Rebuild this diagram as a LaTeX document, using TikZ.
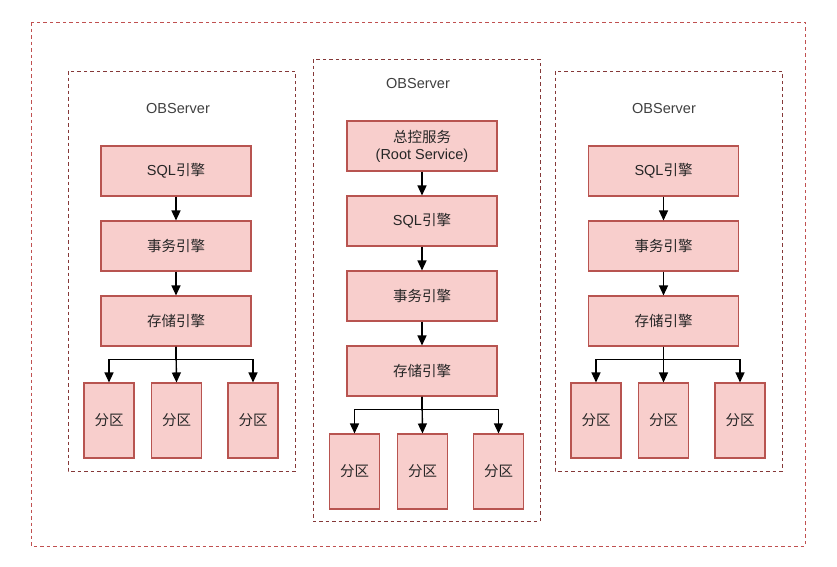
\documentclass[tikz,border=0pt]{standalone}
\usepackage{fontspec}
\setmainfont{Liberation Sans}
\newfontfamily\cjk{Noto Sans CJK SC}
\usetikzlibrary{arrows.meta}
\definecolor{boxfill}{HTML}{F8CECC}
\definecolor{boxline}{HTML}{B85450}
\definecolor{outerline}{HTML}{C05050}
\definecolor{innerline}{HTML}{853838}
\begin{document}
\begin{tikzpicture}[x=1pt,y=-1pt,
  comp/.style={draw=boxline,fill=boxfill,line width=1.1pt,minimum width=150pt,minimum height=50pt,inner sep=0pt,font=\fontsize{14.5}{17}\selectfont,align=center,text=black!85},
  part/.style={draw=boxline,fill=boxfill,line width=1.1pt,minimum width=50pt,minimum height=75pt,inner sep=0pt,font=\fontsize{14.5}{17}\selectfont,text=black!85},
  outerbox/.style={draw=outerline,line width=1pt,dash pattern=on 3.5pt off 3pt},
  innerbox/.style={draw=innerline,line width=1pt,dash pattern=on 3.5pt off 3pt},
  lbl/.style={font=\fontsize{14.5}{17}\selectfont,text=black!75},
  arr/.style={draw=black,line width=1.4pt,-{Triangle[length=10pt,width=9pt]}},
  link/.style={draw=black,line width=1.4pt}]
\useasboundingbox (0,0) rectangle (837,566);
\fill[white] (0,0) rectangle (837,566);
% containers
\draw[outerbox] (31,22) rectangle (805,546);
\draw[innerbox] (68,71) rectangle (295,471);
\draw[innerbox] (313,59) rectangle (540,521);
\draw[innerbox] (555,71) rectangle (782,471);
% labels
\node[lbl] (lA) at (178,109) {OBServer};
\node[lbl] (lB) at (418,84) {OBServer};
\node[lbl] (lC) at (664,109) {OBServer};
% left server
\node[comp] (aSql) at (176,171) {SQL{\cjk 引擎}};
\node[comp] (aTx) at (176,246) {{\cjk 事务引擎}};
\node[comp] (aSt) at (176,321) {{\cjk 存储引擎}};
\node[part] (aP1) at (109,420.5) {{\cjk 分区}};
\node[part] (aP2) at (176.5,420.5) {{\cjk 分区}};
\node[part] (aP3) at (253,420.5) {{\cjk 分区}};
\draw[arr] (aSql) -- (aTx);
\draw[arr] (aTx) -- (aSt);
\draw[arr] (aSt.south) -- (aP2.north);
\draw[link] (aSt.south) -- ++(0,13) coordinate (aJ);
\draw[arr] (aJ) -| (aP1.north);
\draw[arr] (aJ) -| (aP3.north);
% middle server
\node[comp] (bRoot) at (422,146) {{\cjk 总控服务}\\(Root Service)};
\node[comp] (bSql) at (422,221) {SQL{\cjk 引擎}};
\node[comp] (bTx) at (422,296) {{\cjk 事务引擎}};
\node[comp] (bSt) at (422,371) {{\cjk 存储引擎}};
\node[part] (bP1) at (354.5,471.5) {{\cjk 分区}};
\node[part] (bP2) at (422.5,471.5) {{\cjk 分区}};
\node[part] (bP3) at (498.5,471.5) {{\cjk 分区}};
\draw[arr] (bRoot) -- (bSql);
\draw[arr] (bSql) -- (bTx);
\draw[arr] (bTx) -- (bSt);
\draw[arr] (bSt.south) -- (bP2.north);
\draw[link] (bSt.south) -- ++(0,13) coordinate (bJ);
\draw[arr] (bJ) -| (bP1.north);
\draw[arr] (bJ) -| (bP3.north);
% right server
\node[comp] (cSql) at (663.5,171) {SQL{\cjk 引擎}};
\node[comp] (cTx) at (663.5,246) {{\cjk 事务引擎}};
\node[comp] (cSt) at (663.5,321) {{\cjk 存储引擎}};
\node[part] (cP1) at (596,420.5) {{\cjk 分区}};
\node[part] (cP2) at (663.5,420.5) {{\cjk 分区}};
\node[part] (cP3) at (740,420.5) {{\cjk 分区}};
\draw[arr] (cSql) -- (cTx);
\draw[arr] (cTx) -- (cSt);
\draw[arr] (cSt.south) -- (cP2.north);
\draw[link] (cSt.south) -- ++(0,13) coordinate (cJ);
\draw[arr] (cJ) -| (cP1.north);
\draw[arr] (cJ) -| (cP3.north);
\end{tikzpicture}
\end{document}
